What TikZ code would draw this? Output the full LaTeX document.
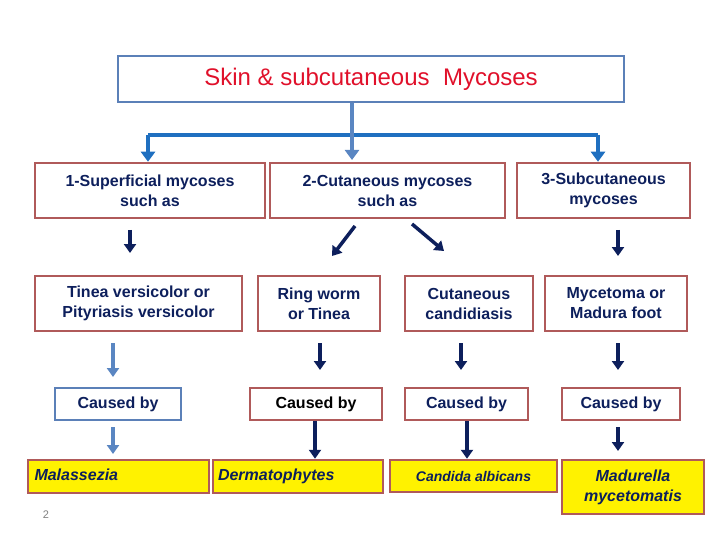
\documentclass[tikz,border=0pt]{standalone}
\usepackage{fontspec}
\setmainfont{Liberation Sans}
\usetikzlibrary{arrows.meta}
\definecolor{navy}{HTML}{0D1F5C}
\definecolor{redb}{HTML}{B05A5A}
\definecolor{blueb}{HTML}{5B80B8}
\definecolor{bluea}{HTML}{1F6FC0}
\definecolor{lblue}{HTML}{5A86C2}
\definecolor{ttl}{HTML}{E0102A}
\tikzset{
  bx/.style={draw=redb,line width=2.5pt,inner sep=0pt,text=navy,font=\fontsize{16}{20}\selectfont\bfseries,align=center},
  yb/.style={bx,fill=yellow,font=\fontsize{16}{20}\selectfont\bfseries\itshape},
  nar/.style={-{Triangle[width=12pt,length=9pt]},navy,line width=3.5pt},
  lar/.style={-{Triangle[width=12pt,length=9pt]},lblue,line width=3.5pt},
  bar/.style={-{Triangle[width=14pt,length=10pt]},bluea,line width=4pt},
}
\begin{document}
\begin{tikzpicture}[x=1pt,y=-1pt]
\useasboundingbox (0,0) rectangle (720,540);
\node[bx,draw=blueb,text=ttl,font=\fontsize{24}{28}\selectfont,minimum width=506pt,minimum height=46pt] (t) at (371,79) {Skin \& subcutaneous~~Mycoses};
\node[bx,minimum width=230pt,minimum height=55pt] (a) at (150,190.5) {1-Superficial mycoses\\such as};
\node[bx,minimum width=235pt,minimum height=55pt] (b) at (387.5,190.5) {2-Cutaneous mycoses\\such as};
\node[bx,minimum width=173pt,minimum height=55pt] (c) at (603.5,190.5) {3-Subcutaneous\\mycoses};
\node[bx,minimum width=207pt,minimum height=55pt] (d) at (138.5,303.5) {Tinea versicolor or\\Pityriasis versicolor};
\node[bx,minimum width=122pt,minimum height=55pt] (e) at (319,303.5) {Ring worm\\or Tinea};
\node[bx,minimum width=128pt,minimum height=55pt] (f) at (469,303.5) {Cutaneous\\candidiasis};
\node[bx,minimum width=142pt,minimum height=55pt] (g) at (616,303.5) {Mycetoma or\\Madura foot};
\node[bx,draw=blueb,minimum width=126pt,minimum height=32pt] (d2) at (118,404) {Caused by};
\node[bx,text=black,minimum width=132pt,minimum height=32pt] (e2) at (316,404) {Caused by};
\node[bx,minimum width=123pt,minimum height=32pt] (f2) at (466.5,404) {Caused by};
\node[bx,minimum width=118pt,minimum height=32pt] (g2) at (621,404) {Caused by};
\node[yb,minimum width=181pt,minimum height=33pt] (d3) at (118.5,476.5) {\makebox[168pt][l]{\strut Malassezia}};
\node[yb,minimum width=170pt,minimum height=33pt] (e3) at (298,476.5) {\makebox[160pt][l]{\strut Dermatophytes}};
\node[yb,font=\fontsize{14}{17}\selectfont\bfseries\itshape,minimum width=167pt,minimum height=32pt] (f3) at (473.5,476) {Candida albicans};
\node[yb,minimum width=142pt,minimum height=54pt] (g3) at (633,487) {Madurella\\mycetomatis};
\node[text=gray,font=\fontsize{11}{12}\selectfont] (pg) at (46,515) {2};
% blue tree
\coordinate (h1) at (148,135); \coordinate (h2) at (598,135);
\draw[bluea,line width=4pt] (h1) -- (h2);
\draw[bar,lblue] (t.south -| 352,0) -- (352,160);
\draw[bar] (h1) -- (a.north -| h1);
\draw[bar] (h2) -- (c.north -| h2);
% row1 -> row2
\draw[nar] (130,230) -- (130,253);
\draw[nar] (355,226) -- (332,256);
\draw[nar] (412,224) -- (444,251);
\draw[nar] (618,230) -- (618,256);
% row2 -> row3
\draw[lar] (113,343) -- (113,377);
\draw[nar] (320,343) -- (320,370);
\draw[nar] (461,343) -- (461,370);
\draw[nar] (618,343) -- (618,370);
% row3 -> row4
\draw[lar] (113,427) -- (113,454);
\draw[nar] (e2.south -| 315,0) -- (e3.north -| 315,0);
\draw[nar] (f2.south -| 467,0) -- (f3.north -| 467,0);
\draw[nar] (618,427) -- (618,451);
\end{tikzpicture}
\end{document}
